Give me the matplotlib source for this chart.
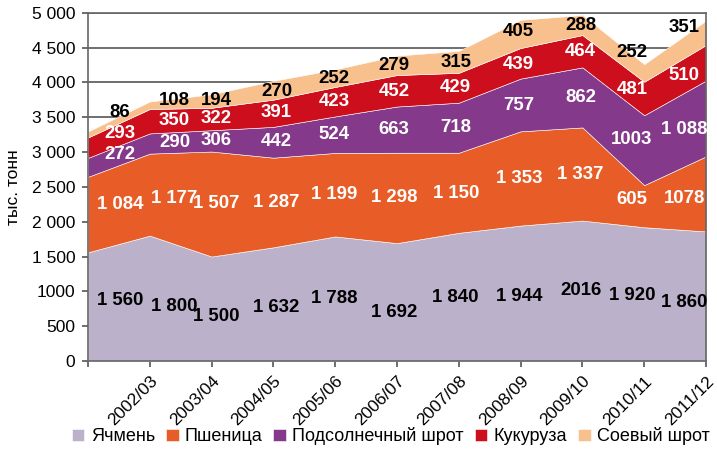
# Stacked area chart: feed grain / meal volumes, thousand tonnes
import numpy as np
import matplotlib
matplotlib.use("Agg")
import matplotlib.pyplot as plt

# Seasons (first point has no tick label)
seasons = ["", "2002/03", "2003/04", "2004/05", "2005/06", "2006/07",
           "2007/08", "2008/09", "2009/10", "2010/11", "2011/12"]

# Series values, thousand tonnes
barley = [1560, 1800, 1500, 1632, 1788, 1692, 1840, 1944, 2016, 1920, 1860]
wheat = [1084, 1177, 1507, 1287, 1199, 1298, 1150, 1353, 1337, 605, 1078]
sunflower_meal = [272, 290, 306, 442, 524, 663, 718, 757, 862, 1003, 1088]
corn = [293, 350, 322, 391, 423, 452, 429, 439, 464, 481, 510]
soy_meal = [86, 108, 194, 270, 252, 279, 315, 405, 288, 252, 351]

series_names = ["Ячмень", "Пшеница", "Подсолнечный шрот", "Кукуруза", "Соевый шрот"]

# Values written without a thousands space in the original labels
no_space = {
    "Ячмень": [8],
    "Пшеница": [10],
    "Подсолнечный шрот": [9],
}

# Styling
colors = ["#bbb1ca", "#e85d27", "#84398b", "#cd0f1d", "#f7c08c"]
label_colors = ["black", "white", "white", "white", "black"]

# Where the value labels sit along x, plus small vertical nudges (data units)
label_x = [0.52, 1.4, 2.08, 3.05, 3.98, 4.95, 5.95, 6.97, 7.97, 8.8, 9.65]
nudges = {
    "Ячмень": [30, -60, -120, -55, 0, -150, 0, -40, 0, -35, -100],
    "Соевый шрот": [100, 50, 0, -30, 0, 0, 0, 40, 0, 150, 280],
}


def fmt(v, plain):
    if plain or v < 1000:
        return str(v)
    return f"{v:,}".replace(",", " ")


plt.rcParams["font.family"] = ["Liberation Sans", "DejaVu Sans"]

fig = plt.figure(figsize=(7.17, 4.76), dpi=100)
ax = fig.add_axes([0.1227, 0.2416, 0.862, 0.7317])

x = np.arange(len(seasons))
data = [barley, wheat, sunflower_meal, corn, soy_meal]

# Stacked areas
ax.stackplot(x, *data, colors=colors, labels=series_names,
             edgecolor="white", linewidth=0.4, zorder=2)

# Value labels in the middle of each band
bottoms = np.vstack([np.zeros(len(x))] + [np.cumsum(data, axis=0)[i] for i in range(len(data))])
for i, name in enumerate(series_names):
    lo = np.interp(label_x, x, bottoms[i])
    hi = np.interp(label_x, x, bottoms[i + 1])
    dy = nudges.get(name, [0] * len(x))
    for j, v in enumerate(data[i]):
        ax.text(label_x[j], (lo[j] + hi[j]) / 2 + dy[j],
                fmt(v, j in no_space.get(name, [])),
                ha="center", va="center", fontsize=13.4, fontweight="bold",
                color=label_colors[i], zorder=5)

# Axes, grid, ticks
ax.set_xlim(0, 10)
ax.set_ylim(0, 5000)
yt = np.arange(0, 5001, 500)
ax.set_yticks(yt)
ax.set_yticklabels(["1000" if v == 1000 else fmt(int(v), False) for v in yt],
                   fontsize=12.5)
ax.set_xticks(x)
ax.set_xticklabels(seasons, rotation=45, ha="right", rotation_mode="anchor",
                   fontsize=12.5)
ax.yaxis.grid(True, color="#555555", linewidth=1.2, zorder=0)
ax.set_axisbelow(True)
ax.tick_params(axis="both", direction="out", length=4, width=1.2,
               color="#555555", pad=5)
for s in ax.spines.values():
    s.set_color("#666666")
    s.set_linewidth(1.2)

ax.set_ylabel("тыс. тонн", fontsize=12.5, labelpad=8)

# Legend at the bottom
fig.legend(loc="lower center", bbox_to_anchor=(0.545, 0.03), ncol=5,
           frameon=False, handlelength=0.7, handleheight=0.7,
           handletextpad=0.35, columnspacing=0.6, fontsize=13)

plt.savefig("out.png", dpi=100)
